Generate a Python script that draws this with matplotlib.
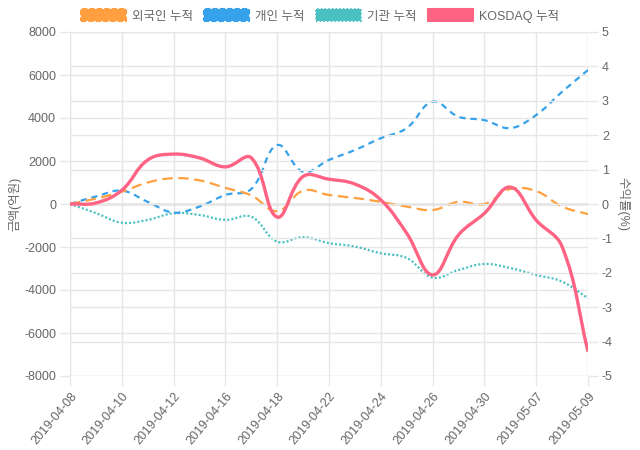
import matplotlib
matplotlib.use("Agg")
import matplotlib.pyplot as plt
from matplotlib.path import Path
from matplotlib.patches import PathPatch, Patch
import numpy as np

plt.rcParams['font.family'] = ['Liberation Sans', 'Noto Sans CJK KR', 'DejaVu Sans']
plt.rcParams['lines.scale_dashes'] = False

dates = ['2019-04-08', '2019-04-09', '2019-04-10', '2019-04-11', '2019-04-12',
         '2019-04-15', '2019-04-16', '2019-04-17', '2019-04-18', '2019-04-19',
         '2019-04-22', '2019-04-23', '2019-04-24', '2019-04-25', '2019-04-26',
         '2019-04-29', '2019-04-30', '2019-05-03', '2019-05-07', '2019-05-08',
         '2019-05-09']
foreign = [0, 250, 570, 1000, 1200, 1100, 750, 400, -330, 620, 420, 280, 100,
           -120, -280, 100, 0, 700, 600, -120, -470]
individual = [0, 350, 620, 100, -400, -120, 420, 700, 2740, 1500, 2050, 2510,
              3060, 3530, 4760, 4060, 3900, 3530, 4140, 5220, 6230]
institution = [0, -420, -870, -740, -430, -510, -740, -590, -1750, -1540, -1820,
               -1980, -2290, -2510, -3420, -3070, -2790, -2980, -3300, -3610, -4380]
kosdaq = [0, 0.03, 0.4, 1.28, 1.45, 1.34, 1.08, 1.34, -0.38, 0.8, 0.72, 0.58,
          0.12, -0.85, -2.06, -0.9, -0.27, 0.49, -0.47, -1.24, -4.29]

left_ticks = list(range(-8000, 8001, 2000))
right_ticks = list(range(-5, 6))

GRID = '#e6e6e6'
TXT = '#666666'


def spline_path(ax, xs, ys, tension=0.4):
    # chart.js style bezier, control points computed in pixel space
    pts = ax.transData.transform(np.column_stack([xs, ys]))
    n = len(pts)
    verts = [pts[0]]
    codes = [Path.MOVETO]
    cps = []
    for i in range(n):
        p0 = pts[max(i - 1, 0)]
        p1 = pts[i]
        p2 = pts[min(i + 1, n - 1)]
        d01 = np.hypot(*(p1 - p0))
        d12 = np.hypot(*(p2 - p1))
        tot = d01 + d12
        s01 = d01 / tot if tot else 0
        s12 = d12 / tot if tot else 0
        cps.append((p1 - tension * s01 * (p2 - p0), p1 + tension * s12 * (p2 - p0)))
    for i in range(1, n):
        verts += [cps[i - 1][1], cps[i][0], pts[i]]
        codes += [Path.CURVE4] * 3
    verts = ax.transData.inverted().transform(np.array(verts))
    return Path(verts, codes)


fig = plt.figure(figsize=(6.4, 4.5), dpi=100)
ax = fig.add_axes([70 / 640, 1 - 376 / 450, 518 / 640, 344 / 450])
ax2 = ax.twinx()

x = np.arange(len(dates))
ax.set_xlim(0, len(dates) - 1)
ax.set_ylim(-8000, 8000)
ax2.set_ylim(-5, 5)

ax.set_xticks(x[::2])
ax.set_xticklabels(dates[::2], rotation=50, ha='right', va='top',
                   rotation_mode='anchor', color=TXT, fontsize=9)
ax.set_yticks(left_ticks)
ax.set_yticklabels([str(v) for v in left_ticks], color=TXT, fontsize=9)
ax2.set_yticks(right_ticks)
ax2.set_yticklabels([str(v) for v in right_ticks], color=TXT, fontsize=9)

for a in (ax, ax2):
    for s in a.spines.values():
        s.set_visible(False)
    a.tick_params(length=7, color=GRID, width=1, pad=3)
ax.grid(True, color=GRID, linewidth=1)
ax2.grid(True, axis='y', color=GRID, linewidth=1)
ax.set_axisbelow(True)
ax2.set_axisbelow(True)
ax.axhline(0, color='#a8a8a8', linewidth=1, zorder=1)
ax.axvline(0, color=GRID, linewidth=1, zorder=0)
ax.axvline(len(dates) - 1, color=GRID, linewidth=1, zorder=0)

ax.set_ylabel('금액(억원)', color=TXT, fontsize=9, labelpad=2)
ax2.set_ylabel('수익률(%)', color=TXT, fontsize=9, rotation=-90, labelpad=12)

series = [
    (ax, foreign, '#ffa040', (0, (7.5, 4)), 1.6, 5),
    (ax, individual, '#36a2eb', (0, (4.5, 3.5)), 1.6, 4),
    (ax, institution, '#4bc0c0', (0, (1.5, 1.5)), 1.6, 3),
    (ax2, kosdaq, '#ff6384', '-', 2.4, 2),
]
for a, vals, col, ls, lw, z in series:
    p = spline_path(a, x, vals)
    a.add_patch(PathPatch(p, facecolor='none', edgecolor=col, linestyle=ls,
                          linewidth=lw, zorder=z, capstyle='butt'))

handles = [
    Patch(facecolor='#ff9f40', edgecolor='#ff9f40', linestyle='--', linewidth=1.5, label='외국인 누적'),
    Patch(facecolor='#36a2eb', edgecolor='#36a2eb', linestyle='--', linewidth=1.5, label='개인 누적'),
    Patch(facecolor='#4bc0c0', edgecolor='#4bc0c0', linestyle=':', linewidth=1.5, label='기관 누적'),
    Patch(facecolor='#ff6384', edgecolor='#ff6384', linewidth=1.5, label='KOSDAQ 누적'),
]
leg = fig.legend(handles=handles, loc='center', bbox_to_anchor=(0.5, 1 - 16 / 450),
                 ncol=4, frameon=False, fontsize=9, handlelength=3.6, handleheight=1.1,
                 handletextpad=0.5, columnspacing=0.9)
for t in leg.get_texts():
    t.set_color(TXT)

fig.savefig('out.png', dpi=100)
